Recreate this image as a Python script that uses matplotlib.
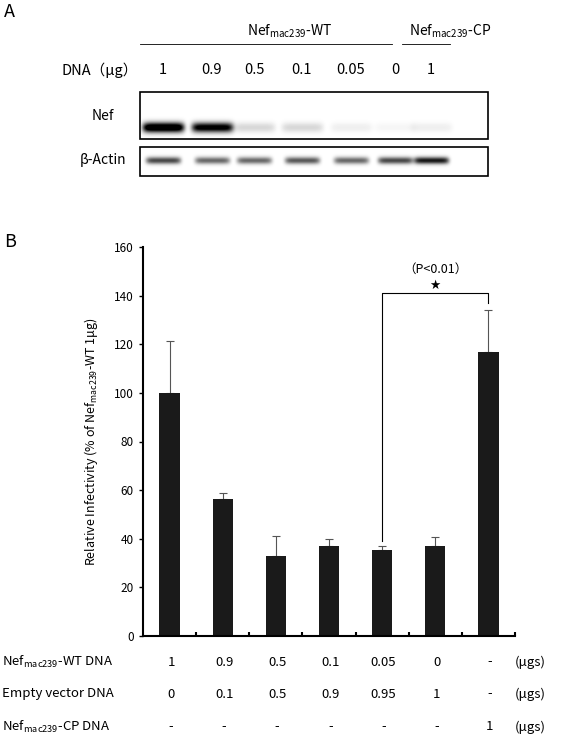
import numpy as np
import matplotlib
matplotlib.use("Agg")
import matplotlib.pyplot as plt
from matplotlib.patches import Rectangle

plt.rcParams['font.family'] = ['Noto Sans CJK JP', 'DejaVu Sans']

lane_labels = ["1", "0.9", "0.5", "0.1", "0.05", "0", "1"]
nef_band = [1.0, 0.85, 0.12, 0.12, 0.05, 0.03, 0.05]
actin_band = [0.55, 0.45, 0.45, 0.5, 0.45, 0.55, 0.7]

means = [100, 56.5, 33, 37, 35.2, 37.2, 116.7]
errs = [21.5, 2.5, 8, 3, 2, 3.5, 17.5]
wt_dna = ["1", "0.9", "0.5", "0.1", "0.05", "0", "-"]
empty_dna = ["0", "0.1", "0.5", "0.9", "0.95", "1", "-"]
cp_dna = ["-", "-", "-", "-", "-", "-", "1"]

W, H = 567, 745
fig = plt.figure(figsize=(W/100, H/100), dpi=100)

ov = fig.add_axes([0, 0, 1, 1])
ov.set_xlim(0, W); ov.set_ylim(H, 0); ov.axis('off')

ov.text(4, 12, "A", fontsize=13, va='center')
ov.text(4, 242, "B", fontsize=13, va='center')
ov.text(290, 31, r"Nef$_\mathregular{mac239}$-WT", fontsize=10, ha='center', va='center')
ov.text(450, 31, r"Nef$_\mathregular{mac239}$-CP", fontsize=10, ha='center', va='center')
ov.plot([140, 392], [44, 44], color='k', lw=0.6)
ov.plot([402, 450], [44, 44], color='k', lw=0.6)
ov.text(100, 70, "DNA（μg）", fontsize=10.5, ha='center', va='center')
lane_x = [163, 212, 254, 302, 351, 395, 431]
for x, l in zip(lane_x, lane_labels):
    ov.text(x, 70, l, fontsize=10.5, ha='center', va='center')
ov.text(103, 116, "Nef", fontsize=10, ha='center', va='center')
ov.text(103, 160, "β-Actin", fontsize=10, ha='center', va='center')

def blot(y0, y1, band_y, intens, sig_y, widthpx):
    xs = np.arange(140, 488)
    ys = np.arange(y0, y1)
    X, Y = np.meshgrid(xs, ys)
    img = np.zeros_like(X, dtype=float)
    for x, a in zip(lane_x, intens):
        img += a * np.exp(-((X - x) / widthpx) ** 8 * 0.5) * np.exp(-((Y - band_y) / sig_y) ** 2 * 0.5)
    img = np.clip(img * 1.3, 0, 1)
    ov.imshow(1 - img, cmap='gray', vmin=0, vmax=1, extent=(140, 488, y1, y0),
              aspect='auto', interpolation='bilinear', zorder=1)
    ov.add_patch(Rectangle((140, y0), 348, y1 - y0, fill=False, lw=1.2, ec='k', zorder=2))

blot(92, 139, 127, nef_band, 3.5, 19)
blot(147, 176, 160, actin_band, 2.5, 16)
ov.set_xlim(0, W); ov.set_ylim(H, 0)

ax = fig.add_axes([143/W, (H-636)/H, 372/W, (636-247)/H])
x = np.arange(len(means))
ax.bar(x, means, width=0.38, color='#1a1a1a', zorder=2)
ax.errorbar(x, means, yerr=[np.zeros(len(errs)), errs], fmt='none', ecolor='#555555',
            elinewidth=0.8, capsize=3, capthick=0.8, zorder=1)
ax.set_xlim(-0.5, len(means) - 0.5)
ax.set_ylim(0, 160)
ax.set_yticks(range(0, 161, 20))
ax.tick_params(axis='y', labelsize=8.5, direction='out', length=3, width=1)
ax.set_xticks(np.arange(0.5, len(means), 1))
ax.set_xticklabels([])
ax.tick_params(axis='x', direction='in', length=3, width=1.5)
for s in ['top', 'right']:
    ax.spines[s].set_visible(False)
ax.spines['left'].set_linewidth(1.5)
ax.spines['bottom'].set_linewidth(1.5)
ax.set_ylabel(r"Relative Infectivity (% of Nef$_\mathregular{mac239}$-WT 1μg)", fontsize=9, labelpad=10)

ax.plot([4, 4, 6, 6], [means[4] + errs[4] + 2, 141, 141, 137], color='k', lw=0.8)
ax.text(5, 144, "★", ha='center', va='center', fontsize=9, family=['DejaVu Sans'])
ax.text(5, 151, "（P<0.01）", ha='center', va='center', fontsize=9)

rows = [(r"Nef$_\mathregular{mac239}$-WT DNA", wt_dna, 662), ("Empty vector DNA", empty_dna, 694),
        (r"Nef$_\mathregular{mac239}$-CP DNA", cp_dna, 727)]
bar_px = [171 + i * 53.1 for i in range(7)]
for lab, vals, y in rows:
    ov.text(2, y, lab, fontsize=9.5, ha='left', va='center')
    for bx, v in zip(bar_px, vals):
        ov.text(bx, y, v, fontsize=9.5, ha='center', va='center')
    ov.text(530, y, "(μgs)", fontsize=9.5, ha='center', va='center')

fig.savefig("out.png", dpi=100)
